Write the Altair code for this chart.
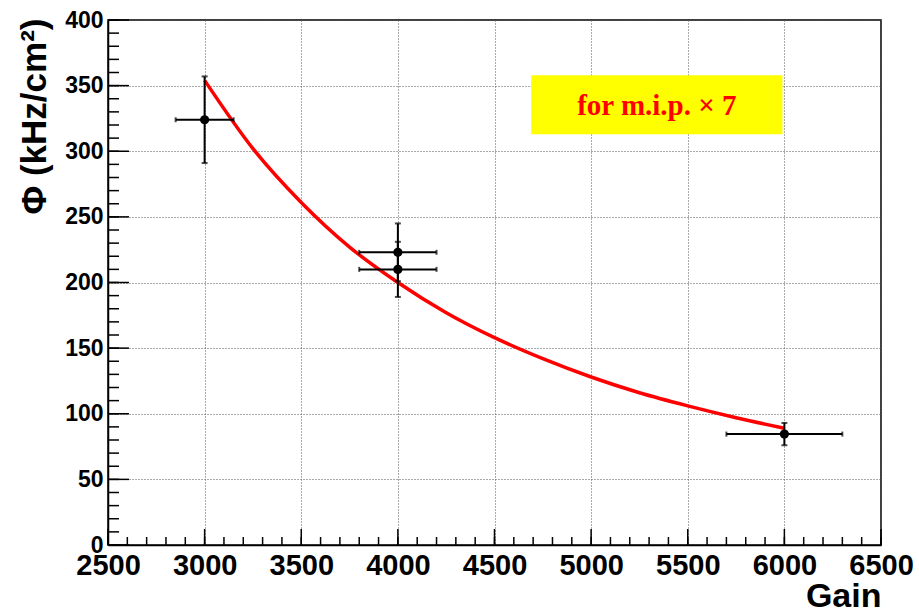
import altair as alt
import pandas as pd

# measured points
gain = [3000, 4000, 4000, 6000]
gain_err = [150, 200, 200, 300]
phi = [324, 223, 210, 84.5]
phi_err = [33, 22, 21, 8.5]

# fitted curve
fit_gain = [3000, 3250, 3500, 3750, 4000, 4250, 4500, 4750, 5000, 5250, 5500, 5750, 6000]
fit_phi = [354, 302, 261, 227, 200, 177, 158, 142, 128, 116, 106, 97, 89]

# axis ticks
x_major = [2500, 3000, 3500, 4000, 4500, 5000, 5500, 6000, 6500]
x_minor = list(range(2500, 6501, 100))
y_major = [0, 50, 100, 150, 200, 250, 300, 350, 400]
y_minor = list(range(0, 401, 10))

# annotation box
box_gain = [4690, 5990]
box_phi = [313, 358]
box_text = "for m.i.p. \u00d7 7"

W, H = 773, 525

pts = pd.DataFrame({
    "gain": gain,
    "phi": phi,
    "glo": [g - e for g, e in zip(gain, gain_err)],
    "ghi": [g + e for g, e in zip(gain, gain_err)],
    "plo": [p - e for p, e in zip(phi, phi_err)],
    "phi_hi": [p + e for p, e in zip(phi, phi_err)],
})
fit = pd.DataFrame({"gain": fit_gain, "phi": fit_phi})
box = pd.DataFrame({"x1": [box_gain[0]], "x2": [box_gain[1]], "y1": [box_phi[0]], "y2": [box_phi[1]],
                    "xc": [sum(box_gain) / 2], "yc": [sum(box_phi) / 2], "t": [box_text]})
xmaj = pd.DataFrame({"gain": x_major})
xmin = pd.DataFrame({"gain": x_minor})
ymaj = pd.DataFrame({"phi": y_major})
ymin = pd.DataFrame({"phi": y_minor})

xs = alt.Scale(domain=[2500, 6500], nice=False, zero=False)
ys = alt.Scale(domain=[0, 400], nice=False, zero=False)

x_axis = alt.Axis(
    values=x_major, format="d", ticks=False,
    labelFont="Liberation Sans", labelFontWeight="bold", labelFontSize=29, labelColor="black",
    labelPadding=6, labelOverlap=False, labelFlush=False, labelBound=False,
    domainColor="black", domainWidth=1.5,
    grid=True, gridColor="#555555", gridDash=[1, 2], gridWidth=1,
    title="Gain", titleFont="Liberation Sans", titleFontWeight="bold", titleFontSize=34,
    titleColor="black", titleX=W, titleY=61, titleAlign="right", titleBaseline="alphabetic",
    titleAngle=0,
)
y_axis = alt.Axis(
    values=y_major, format="d", ticks=False,
    labelFont="Liberation Sans", labelFontWeight="bold", labelFontSize=23, labelColor="black",
    labelPadding=5, labelOverlap=False, labelFlush=False, labelBound=False,
    domainColor="black", domainWidth=1.5,
    grid=True, gridColor="#555555", gridDash=[1, 2], gridWidth=1,
    title="\u03a6 (kHz/cm\u00b2)", titleFont="Liberation Sans", titleFontWeight="bold", titleFontSize=35,
    titleColor="black", titleX=-63, titleY=-2, titleAlign="right", titleBaseline="alphabetic",
    titleAngle=-90,
)


def X(f):
    return alt.X(f, scale=xs, axis=x_axis)


def Y(f):
    return alt.Y(f, scale=ys, axis=y_axis)


base_pts = alt.Chart(pts)

rect = alt.Chart(box).mark_rect(color="#ffff00").encode(
    x=X("x1:Q"), x2="x2:Q", y=Y("y1:Q"), y2="y2:Q",
)
label = alt.Chart(box).mark_text(
    font="Liberation Serif", fontWeight="bold", fontSize=29, color="#ff0000",
    align="center", baseline="middle", dy=1,
).encode(x=X("xc:Q"), y=Y("yc:Q"), text="t:N")

fit_line = alt.Chart(fit).mark_line(color="#ff0000", strokeWidth=3.5, interpolate="monotone").encode(
    x=X("gain:Q"), y=Y("phi:Q"),
)

hbar = base_pts.mark_rule(color="black", strokeWidth=2).encode(
    x=X("glo:Q"), x2="ghi:Q", y=Y("phi:Q"))
vbar = base_pts.mark_rule(color="black", strokeWidth=2).encode(
    x=X("gain:Q"), y=Y("plo:Q"), y2="phi_hi:Q")
cap_l = base_pts.mark_tick(orient="vertical", color="black", thickness=2, size=5).encode(
    x=X("glo:Q"), y=Y("phi:Q"))
cap_r = base_pts.mark_tick(orient="vertical", color="black", thickness=2, size=5).encode(
    x=X("ghi:Q"), y=Y("phi:Q"))
cap_b = base_pts.mark_tick(orient="horizontal", color="black", thickness=2, size=6).encode(
    x=X("gain:Q"), y=Y("plo:Q"))
cap_t = base_pts.mark_tick(orient="horizontal", color="black", thickness=2, size=6).encode(
    x=X("gain:Q"), y=Y("phi_hi:Q"))
dots = base_pts.mark_point(filled=True, shape="circle", size=85, color="black", opacity=1).encode(
    x=X("gain:Q"), y=Y("phi:Q"))

xt_maj = alt.Chart(xmaj).mark_rule(color="black", strokeWidth=1.5).encode(
    x=X("gain:Q"), y=alt.value(H), y2=alt.value(H - 16))
xt_min = alt.Chart(xmin).mark_rule(color="black", strokeWidth=1.5).encode(
    x=X("gain:Q"), y=alt.value(H), y2=alt.value(H - 8))
yt_maj = alt.Chart(ymaj).mark_rule(color="black", strokeWidth=1.5).encode(
    y=Y("phi:Q"), x=alt.value(0), x2=alt.value(21))
yt_min = alt.Chart(ymin).mark_rule(color="black", strokeWidth=1.5).encode(
    y=Y("phi:Q"), x=alt.value(0), x2=alt.value(11))

chart = alt.layer(
    rect, fit_line, hbar, vbar, cap_l, cap_r, cap_b, cap_t, dots, label,
    xt_maj, xt_min, yt_maj, yt_min,
).properties(
    width=W, height=H,
    autosize=alt.AutoSizeParams(type="none"),
    padding={"left": 108, "top": 20, "right": 38, "bottom": 68},
    background="white",
).configure_view(stroke="black", strokeWidth=1.5)

chart.save("out.html", embed_options={"renderer": "svg", "actions": False})
